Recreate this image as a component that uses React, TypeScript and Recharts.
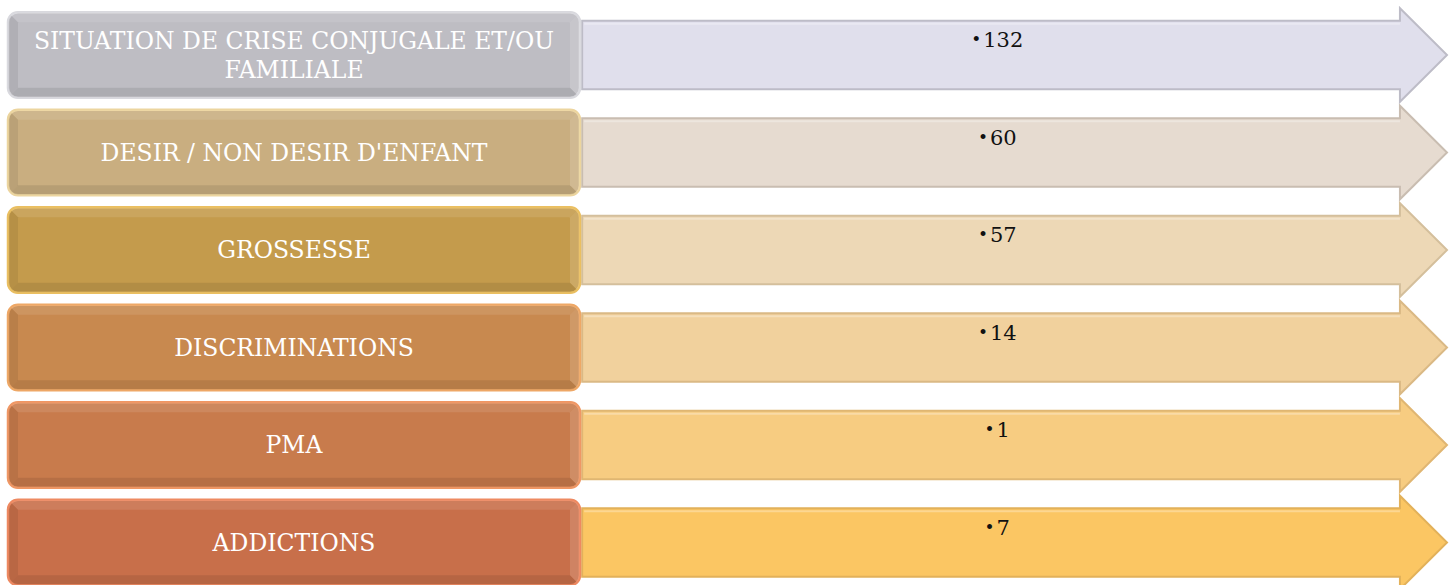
import React from 'react';
import { BarChart, Bar, XAxis, YAxis } from 'recharts';

// categories (top to bottom) and the count shown in each arrow
const categories = [
    'SITUATION DE CRISE CONJUGALE ET/OU FAMILIALE',
    "DESIR / NON DESIR D'ENFANT",
    'GROSSESSE',
    'DISCRIMINATIONS',
    'PMA',
    'ADDICTIONS'
];
const counts = [132, 60, 57, 14, 1, 7];

// box colour, box edge glow, arrow fill, arrow outline
const boxColors = ['#bebdc3', '#c9ae80', '#c49b4c', '#c8894f', '#c87b4c', '#c86f4a'];
const boxEdges = ['#d9d9de', '#ecd59f', '#eabf62', '#eea867', '#ef9765', '#ee8a62'];
const arrowColors = ['#e0dfec', '#e6dbd0', '#edd8b6', '#f1d19d', '#f7cc81', '#fbc663'];
const arrowEdges = ['#bdbcc7', '#c9bdb1', '#d4bf9c', '#dab985', '#e0b672', '#e2b15a'];

const data = categories.map((name, i) => ({ name, value: counts[i] }));

const wrap = (s: string, max = 35) => {
    const lines: string[] = [];
    let cur = '';
    s.split(' ').forEach((w) => {
        const next = cur ? cur + ' ' + w : w;
        if (next.length > max && cur) {
            lines.push(cur);
            cur = w;
        } else cur = next;
    });
    if (cur) lines.push(cur);
    return lines;
};

const RowShape = (props: any) => {
    const { x, y, width, height, index, payload } = props;
    const i = index ?? 0;
    const cy = y + height / 2;
    const boxW = width * 0.3975;
    const boxH = height * 0.872;
    const boxTop = cy - boxH / 2;
    const r = 10;
    const b = 10;
    const ax = x + width * 0.399;
    const hx = x + width * 0.9673;
    const tip = x + width;
    const bh = height * 0.7;
    const hh = height * 0.955;
    const clipId = `boxclip-${i}`;
    const lines = wrap(payload?.name ?? categories[i]);
    const value = payload?.value ?? counts[i];
    const lineGap = 29;
    const arrowPts = [
        [ax, cy - bh / 2],
        [hx, cy - bh / 2],
        [hx, cy - hh / 2],
        [tip, cy],
        [hx, cy + hh / 2],
        [hx, cy + bh / 2],
        [ax, cy + bh / 2]
    ]
        .map((p) => p.join(','))
        .join(' ');
    return (
        <g>
            <defs>
                <clipPath id={clipId}>
                    <rect x={x} y={boxTop} width={boxW} height={boxH} rx={r} ry={r} />
                </clipPath>
            </defs>
            {/* arrow */}
            <polygon points={arrowPts} fill={arrowColors[i]} stroke={arrowEdges[i]} strokeWidth={2} strokeLinejoin="miter" />
            <line x1={ax + 2} x2={hx} y1={cy - bh / 2 + 3} y2={cy - bh / 2 + 3} stroke="#ffffff" strokeOpacity={0.3} strokeWidth={2} />
            {/* box with bevel */}
            <rect x={x} y={boxTop} width={boxW} height={boxH} rx={r} ry={r} fill={boxColors[i]} stroke={boxEdges[i]} strokeWidth={2.5} />
            <g clipPath={`url(#${clipId})`}>
                <polygon
                    points={`${x},${boxTop} ${x + boxW},${boxTop} ${x + boxW - b},${boxTop + b} ${x + b},${boxTop + b}`}
                    fill="#ffffff"
                    fillOpacity={0.1}
                />
                <polygon
                    points={`${x},${boxTop + boxH} ${x + boxW},${boxTop + boxH} ${x + boxW - b},${boxTop + boxH - b} ${x + b},${boxTop + boxH - b}`}
                    fill="#000000"
                    fillOpacity={0.09}
                />
                <polygon
                    points={`${x},${boxTop} ${x + b},${boxTop + b} ${x + b},${boxTop + boxH - b} ${x},${boxTop + boxH}`}
                    fill="#000000"
                    fillOpacity={0.07}
                />
                <polygon
                    points={`${x + boxW},${boxTop} ${x + boxW - b},${boxTop + b} ${x + boxW - b},${boxTop + boxH - b} ${x + boxW},${boxTop + boxH}`}
                    fill="#ffffff"
                    fillOpacity={0.14}
                />
            </g>
            <rect x={x} y={boxTop} width={boxW} height={boxH} rx={r} ry={r} fill="none" stroke={boxEdges[i]} strokeWidth={1.5} strokeOpacity={0.8} />
            <text
                x={x + boxW / 2}
                textAnchor="middle"
                fill="#ffffff"
                fontFamily="'DejaVu Serif', serif"
                fontSize={23.5}
            >
                {lines.map((ln, k) => (
                    <tspan key={k} x={x + boxW / 2} y={cy + 8 + (k - (lines.length - 1) / 2) * lineGap}>
                        {ln}
                    </tspan>
                ))}
            </text>
            {/* count label */}
            <text
                x={ax + (tip - ax) * 0.48}
                y={cy - 8}
                textAnchor="middle"
                fill="#111111"
                fontFamily="'DejaVu Serif', serif"
                fontSize={21}
            >
                <tspan fontSize={17} dy={-2}>•</tspan>
                <tspan dx={2} dy={2}>{value}</tspan>
            </text>
        </g>
    );
};

export default function App() {
    return (
        <div
            style={{
                position: 'fixed',
                top: 0,
                left: 0,
                width: 1451,
                height: 585,
                overflow: 'hidden',
                background: '#ffffff'
            }}
        >
            <BarChart
                width={1451}
                height={591}
                data={data}
                layout="vertical"
                margin={{ top: 6, right: 4, bottom: 0, left: 8 }}
                barCategoryGap={0}
            >
                <XAxis type="number" hide domain={[0, 'dataMax']} />
                <YAxis type="category" dataKey="name" hide />
                <Bar
                    dataKey="value"
                    isAnimationActive={false}
                    background={<RowShape />}
                    shape={() => <g />}
                />
            </BarChart>
        </div>
    );
}
